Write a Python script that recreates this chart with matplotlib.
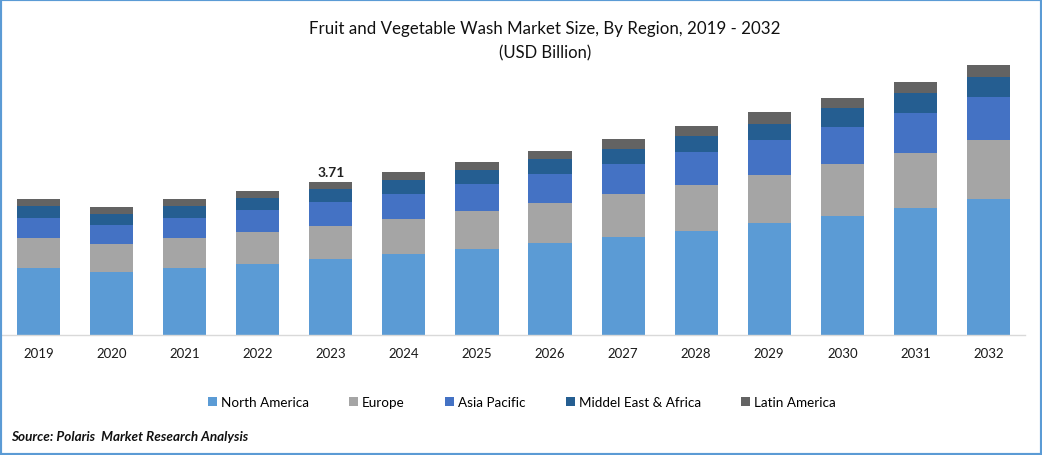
import matplotlib
matplotlib.use("Agg")
import matplotlib.pyplot as plt
from matplotlib.patches import Rectangle
import numpy as np

years = ["2019","2020","2021","2022","2023","2024","2025","2026","2027","2028","2029","2030","2031","2032"]
north_america = [1.62,1.53,1.62,1.72,1.84,1.96,2.09,2.23,2.38,2.52,2.72,2.89,3.08,3.30]
europe = [0.73,0.68,0.73,0.78,0.80,0.85,0.92,0.97,1.04,1.12,1.16,1.26,1.33,1.43]
asia_pacific = [0.48,0.46,0.48,0.53,0.58,0.61,0.65,0.70,0.73,0.80,0.85,0.90,0.97,1.04]
mea = [0.29,0.27,0.29,0.29,0.32,0.34,0.34,0.36,0.36,0.39,0.39,0.46,0.49,0.49]
latam = [0.17,0.17,0.17,0.17,0.17,0.19,0.19,0.19,0.24,0.24,0.29,0.24,0.27,0.29]
series = [("North America", north_america, "#5B9BD5"),
          ("Europe", europe, "#A5A5A5"),
          ("Asia Pacific", asia_pacific, "#4472C4"),
          ("Middel East & Africa", mea, "#255E91"),
          ("Latin America", latam, "#636363")]

plt.rcParams['font.family'] = ['Lato', 'DejaVu Sans']
W, H = 1042, 456
fig = plt.figure(figsize=(W/100, H/100), dpi=100, facecolor="white")
ax = fig.add_axes([2.0/W, 1-336/H, 1023/W, 295/H])
x = np.arange(len(years))
bottom = np.zeros(len(years))
for name, vals, col in series:
    ax.bar(x, vals, width=0.59, bottom=bottom, color=col, label=name, linewidth=0)
    bottom += np.array(vals)
ax.set_xlim(-0.5, 13.5)
ax.set_ylim(0, 295/41.24)
ax.set_yticks([])
ax.set_xticks(x, years)
ax.tick_params(axis='x', length=0, pad=8.5, labelsize=9.5, colors="#1a1a1a")
for s in ("top","left","right"):
    ax.spines[s].set_visible(False)
ax.spines["bottom"].set_color("#D9D9D9")
ax.spines["bottom"].set_linewidth(1.0)
ax.text(4, bottom[4]+0.1, "3.71", ha="center", va="bottom", fontsize=10, fontweight="bold", color="#222222")

fig.text(545/W, 1-29/H, "Fruit and Vegetable Wash Market Size, By Region, 2019 - 2032", ha="center", va="center", fontsize=12.2, color="#111111")
fig.text(545/W, 1-53/H, "(USD Billion)", ha="center", va="center", fontsize=12, color="#111111")
fig.text(11/W, 1-437/H, "Source: Polaris  Market Research Analysis", ha="left", va="center", fontsize=9.7, fontweight="bold", fontstyle="italic", color="#111111")

fig.legend(loc="center", bbox_to_anchor=(522/W, 1-403.5/H), ncol=5, frameon=False,
           fontsize=9.7, handlelength=0.65, handleheight=0.65, handletextpad=0.3, columnspacing=3.0)
fig.add_artist(Rectangle((0,0), 1, 1, transform=fig.transFigure, fill=False, edgecolor="#5B9BD5", linewidth=3, clip_on=True))
fig.savefig("out.png", dpi=100)
